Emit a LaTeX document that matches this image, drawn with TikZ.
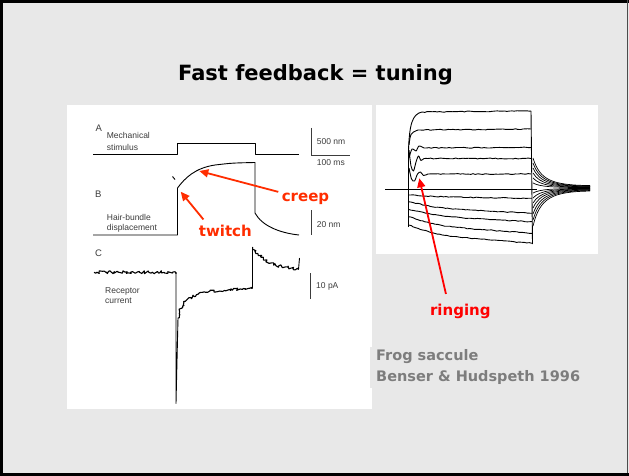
\documentclass[tikz,border=0pt]{standalone}
\usepackage{fontspec}
\setmainfont{Liberation Sans}
\newfontfamily\slidefont{DejaVu Sans}
\usepackage{tikz}
\usetikzlibrary{positioning,arrows.meta,decorations.pathmorphing}

\definecolor{slidegray}{RGB}{232,232,232}
\definecolor{labelred}{RGB}{255,45,0}
\definecolor{notegray}{RGB}{125,125,125}
\definecolor{inkgray}{RGB}{60,60,60}

\tikzset{
    trace/.style={line width=0.9pt, black, line join=round},
    noisy/.style={trace, line width=1.1pt, decorate, decoration={random steps, segment length=1.4pt, amplitude=1.5pt}},
    wobbly/.style={trace, decorate, decoration={random steps, segment length=2.5pt, amplitude=0.45pt}},
    tail/.style={line width=0.7pt, black},
    scalebar/.style={line width=0.9pt, inkgray},
    figlabel/.style={font=\fontsize{8.5}{9}\selectfont, text=inkgray, anchor=base west, inner sep=0pt},
    panelmark/.style={figlabel, font=\fontsize{9.5}{10}\selectfont},
    callout/.style={font=\slidefont\bfseries\fontsize{15}{17}\selectfont, text=labelred, anchor=base},
    pointer/.style={labelred, line width=1.8pt, -{Triangle[length=9pt,width=8pt]}},
}

\begin{document}
\begin{tikzpicture}[x=1pt, y=-1pt]
    \pgfmathsetseed{42}
    \useasboundingbox (0,0) rectangle (629,476);

    % slide
    \fill[slidegray] (0,0) rectangle (629,476);
    \draw[line width=3pt] (629,1.5) -- (1.5,1.5) -- (1.5,474.5) -- (629,474.5);
    \draw[gray!60!black, line width=1.2pt] (627.8,0) -- (627.8,473);
    \node[font=\slidefont\bfseries\fontsize{21}{24}\selectfont, anchor=base] (title) at (315.5,80.7) {Fast feedback = tuning};

    % panels
    \fill[white] (67,105) rectangle (371.7,409.3);
    \fill[white] (376,105) rectangle (598.3,254.3);

    %% left panel: A stimulus
    \node[panelmark] (labA) at (95.5,131.5) {A};
    \node[figlabel] (mech) at (106.7,139) {Mechanical};
    \node[figlabel] (stim) at (106.7,150) {stimulus};
    \draw[trace] (93,154) -- (177,154) -- (177,143.3) -- (255,143.3) -- (255,154) -- (299,154);
    \draw[scalebar] (311.7,128) -- (311.7,155) -- (350,155);
    \node[figlabel] (nmA) at (316.7,144.3) {500 nm};
    \node[figlabel] (ms) at (316.7,165) {100 ms};

    %% B hair bundle
    \node[panelmark] (labB) at (95,197.3) {B};
    \node[figlabel] (hair) at (106.7,220) {Hair-bundle};
    \node[figlabel] (disp) at (106.7,230) {displacement};
    \draw[trace] (93,235) -- (177.5,235) -- (177.5,188)
        .. controls (185,178) and (195,168) .. (215,165)
        .. controls (232,163) .. (255,162.5) -- (255,213)
        .. controls (262,226) and (280,233) .. (299,235);
    \draw[trace] (172.5,176.5) -- (175,179.5);
    \draw[scalebar] (311.7,210) -- (311.7,235);
    \node[figlabel] (nmB) at (316.7,227.7) {20 nm};

    %% C receptor current
    \node[panelmark] (labC) at (95,256.7) {C};
    \node[figlabel] (rec) at (105,293.3) {Receptor};
    \node[figlabel] (cur) at (105,303.3) {current};
    \draw[noisy] (94,272.3) -- (176,272.3);
    \draw[trace] (176,272.3) -- (176,403.3) -- (178,318);
    \draw[noisy] (178,318) .. controls (181,302) and (190,294) .. (210,291) -- (252.7,288.3);
    \draw[trace] (252.7,288.3) -- (252.7,247);
    \draw[noisy] (252.7,247) .. controls (260,258) and (270,265) .. (285,267) -- (298.5,269.5);
    \draw[trace] (298.5,269.5) -- (299.5,258);
    \draw[scalebar] (310.7,273.3) -- (310.7,299.3);
    \node[figlabel] (pA) at (316,288.3) {10 pA};

    %% right panel: family of bundle traces
    \draw[trace] (385,189.3) -- (537,189.3);
    \draw[trace] (408.5,227) -- (408.5,150);
    \draw[trace] (408.5,150) .. controls (409.5,125) and (412,114) .. (422,112);
    \draw[wobbly] (422,112) -- (531,111);
    \draw[trace] (409,145) .. controls (410.5,133) .. (418,130);
    \draw[wobbly] (418,130) -- (531,129);
    \draw[trace] plot[smooth] coordinates {(409,158) (412,149) (416,151) (419,146) (424,148)};
    \draw[wobbly] (424,148) -- (531,147.5);
    \draw[trace] plot[smooth] coordinates {(409,150) (411,166) (413.5,171) (416,162) (418.5,156) (421,160.5) (424,158.5) (428,158.5)};
    \draw[wobbly] (428,158.5) -- (531,158.5);
    \draw[trace] plot[smooth] coordinates {(409,168) (411.5,179) (414.5,181) (417.5,174) (420.5,172) (423.5,175.5) (428,174)};
    \draw[wobbly] (428,174) -- (531,174);
    \foreach \yl/\yr in {195/198.3, 201.7/213.3, 209.3/221.7, 216.7/233.3, 225/243.3}{
        \draw[wobbly] (408.5,\yl) .. controls (440,\yl+0.6*\yr-0.6*\yl) .. (532,\yr);
    }
    \draw[trace] (531,111) -- (532.5,244);
    % decay tails after the step
    \foreach \y in {158,163,168,173,178,183,193,198,203,208,214,220,226}{
        \pgfmathsetmacro\ya{188+(\y-188)*0.25}
        \pgfmathsetmacro\yb{188+(\y-188)*0.1}
        \pgfmathsetmacro\yc{188+(\y-188)*0.08}
        \draw[tail] (533,\y) .. controls (540,\ya) and (552,\yb) .. (590,\yc);
    }

    % callouts
    \node[callout] (creep) at (305.5,201.7) {creep};
    \node[callout] (twitch) at (225.3,236.7) {twitch};
    \node[callout, text=red] (ringing) at (460.3,315.7) {ringing};
    \coordinate (creepTip) at (199.3,171);
    \coordinate (twitchTip) at (180.7,191.7);
    \coordinate (ringTip) at (419.3,178.3);
    \draw[pointer] (creep) -- (creepTip);
    \draw[pointer, shorten <=3pt] ([xshift=10pt]twitch.north west) -- (twitchTip);
    \draw[pointer, red, shorten <=7pt] ([xshift=21pt]ringing.north west) -- (ringTip);

    % source
    \node[fill=slidegray, anchor=north west, align=left, text=notegray, inner xsep=6pt, inner ysep=3pt,
        font=\slidefont\bfseries\fontsize{14.5}{21}\selectfont] (source) at (370,346.7)
        {Frog saccule\\Benser \& Hudspeth 1996};
\end{tikzpicture}
\end{document}
